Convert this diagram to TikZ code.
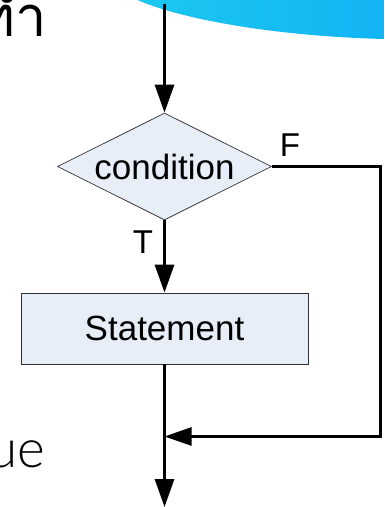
\documentclass[tikz,border=0pt]{standalone}
\usepackage{fontspec}
\setmainfont{Liberation Sans}
\newfontfamily\thaifont[Script=Thai]{Loma}
\newfontfamily\thinfont[UprightFont={* Light}]{Lato}
\usetikzlibrary{shapes.geometric,arrows.meta}
\definecolor{boxfill}{HTML}{E8EEF8}
\definecolor{boxline}{HTML}{303030}
\definecolor{waveA}{HTML}{1CC8F0}
\definecolor{waveB}{HTML}{12B4F3}
\tikzset{
  x=1pt,y=-1pt,
  flow/.style={line width=3pt,-{Triangle[length=28pt,width=19pt]}},
  boxstyle/.style={draw=boxline,fill=boxfill,line width=0.7pt,inner sep=0pt,text=black,font=\fontsize{35}{40}\selectfont},
  lab/.style={inner sep=0pt,text=black,font=\fontsize{33}{38}\selectfont},
  page/.style={inner sep=0pt,text=black}
}
\begin{document}
\begin{tikzpicture}
\useasboundingbox (0,0) rectangle (384,507);
\begin{scope}
\clip (0,0) rectangle (384,507);
\fill[white] (0,0) rectangle (384,507);
\shade[left color=waveA,right color=waveB] (133,-2) .. controls (175,18) and (270,36) .. (384,39) -- (384,-2) -- cycle;
\node[page,anchor=base east,font=\thaifont\fontsize{56}{64}\selectfont] (thai) at (47,36) {ทำ};
\node[page,anchor=base east,font=\thinfont\fontsize{53}{60}\selectfont] (ue) at (45,467) {ue};
\end{scope}
\node[boxstyle,diamond,minimum width=214pt,minimum height=107pt,aspect=2] (cond) at (164.5,166.5) {condition};
\node[boxstyle,rectangle,minimum width=287pt,minimum height=71pt] (stmt) at (164.5,328.5) {Statement};
\coordinate (start) at (164.5,4);
\coordinate (merge) at (164.5,436.5);
\coordinate (end) at (164.5,507);
\coordinate (corner1) at (380.5,166.5);
\coordinate (corner2) at (380.5,436.5);
\draw[flow] (start) -- (cond.north);
\draw[flow] (cond.south) -- (stmt.north);
\draw[line width=3pt] (stmt.south) -- (merge);
\draw[flow] (merge) -- (end);
\draw[line width=2.6pt,-{Triangle[length=27pt,width=18pt]},line join=miter] (cond.east) -- (corner1) -- (corner2) -- (merge);
\node[lab,anchor=base] (F) at (290,156) {F};
\node[lab,anchor=base] (T) at (143,253) {T};
\end{tikzpicture}
\end{document}
